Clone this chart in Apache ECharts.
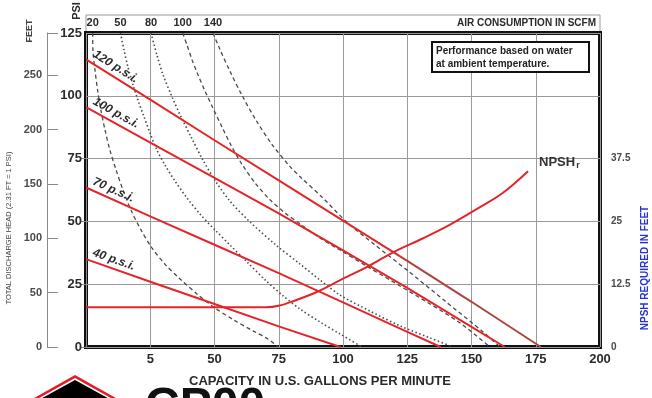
<!DOCTYPE html>
<html>
<head>
<meta charset="utf-8">
<script src="https://cdn.jsdelivr.net/npm/echarts@6/dist/echarts.min.js"></script>
<style>
  html, body { margin: 0; padding: 0; background: #ffffff; }
  #chart { width: 652px; height: 398px; }
</style>
</head>
<body>
<div id="chart"></div>
<script>
// ---- Axis ticks and printed tick labels ----
const capacityTicks = [0, 25, 50, 75, 100, 125, 150, 175, 200];
const capacityTickLabels = ['', '5', '50', '75', '100', '125', '150', '175', '200'];
const feetTicks = [0, 50, 100, 150, 200, 250];
const npshTicks = [0, 12.5, 25, 37.5];
const npshTickLabels = ['0', '12.5', '25', '37.5'];
const PSI_MAX = 125;
const FT_PER_PSI = 2.31;        // discharge head conversion
const NPSH_FT_PER_PSI = 0.5;    // NPSH scale shares the psi grid

// ---- Discharge pressure vs capacity at each air inlet pressure [gpm, psi] ----
const head120 = [[0, 114.5], [25, 98.5], [50, 82.3], [75, 66.3], [100, 50.3], [125, 34.3], [150, 18], [177, 0]];
const head100 = [[0, 95.5], [25, 81.4], [50, 67.3], [75, 53.2], [100, 38.5], [125, 23.5], [150, 8], [163, 0]];
const head70  = [[0, 63.5], [25, 52], [50, 40.7], [75, 29.4], [100, 17.8], [125, 6], [138, 0]];
const head40  = [[0, 35], [25, 26], [50, 17.1], [75, 8.2], [99, 0]];
const headLabels = ['120 p.s.i.', '100 p.s.i.', '70 p.s.i.', '40 p.s.i.'];

// ---- Air consumption curves (SCFM) [gpm, psi] ----
const air20 = [[2.6, 125], [2.7, 118.2], [3.5, 110.2], [4.5, 102.3], [5.8, 94.3], [7.4, 86.4], [9.3, 78.4], [11.7, 70.5],
  [14.4, 62.5], [17.5, 54.5], [21.4, 46.6], [25.7, 39.4], [30.7, 33], [36.6, 27.1], [43.2, 21.1], [50.2, 15.5],
  [57.6, 10.7], [65, 6.4], [70.8, 3.2], [74.7, 0]];
const air50 = [[13.4, 125], [14.8, 118.2], [16.3, 111.5], [18.3, 104.3], [20.2, 98.3], [22.6, 91.6], [24.9, 85.2],
  [27.6, 78.4], [30.7, 72.5], [34.6, 66.1], [39.3, 59.3], [44.4, 52.9], [50.2, 46.6], [56, 40.6], [62.7, 33.8],
  [69.7, 26.7], [76.3, 20.7], [83.3, 15.1], [91, 10], [98.8, 5.2], [107.4, 0]];
const air80 = [[25.3, 125], [27.6, 116.2], [30, 108.3], [33.5, 99.5], [37, 91.6], [40.9, 83.6], [45.5, 74.4],
  [50.6, 65.7], [56, 58.1], [63.8, 49.8], [73.9, 40.6], [83.3, 33], [91, 26.7], [98.8, 20.7], [110.5, 14.3],
  [122.2, 8.4], [133.9, 3.6], [142.8, 0]];
const air100 = [[37.6, 125], [39.3, 120.2], [41.3, 114.2], [43.6, 108.3], [46.3, 101.9], [49.4, 95.1], [52.9, 87.6],
  [56.8, 79.6], [61.1, 72.1], [65.8, 65.3], [71.6, 58.6], [77.4, 53.4], [83.3, 49], [91, 43.4], [98.8, 38.6],
  [110.5, 31.4], [122.2, 24.3], [133.9, 17.1], [145.5, 9.6], [157.2, 0]];
const air140 = [[49.4, 125], [52.1, 118.5], [56, 109.8], [60.7, 100.2], [66.2, 90.2], [72.4, 80.6], [79.4, 71.8],
  [83.3, 67.8], [92.2, 59.3], [101.4, 49.8], [112.5, 40.6], [124.8, 30.7], [139.7, 18.3], [154.5, 6], [161.1, 0]];
const airLabels = ['20', '50', '80', '100', '140'];

// ---- NPSH required [gpm, feet] ----
const npshRequired = [[0, 7.9], [70, 7.9], [75, 8.2], [80, 9], [90, 11], [100, 13.6], [110, 16.1], [120, 19], [131, 21.6], [141.5, 24.3], [152.5, 27.6], [162, 30.6], [172, 35]];

// ---- Layout ----
const W = 652, H = 398;
const G = { left: 86, top: 33, right: 52, bottom: 51 };
const plotW = W - G.left - G.right;
const plotH = H - G.top - G.bottom;
const npshMaxMain = PSI_MAX * NPSH_FT_PER_PSI;
const npshGridTop = G.top + plotH * (1 - npshTicks[npshTicks.length - 1] / npshMaxMain);

const SANS = "'Liberation Sans',Arial,sans-serif";
const RED = '#e3252b';
const INK = '#2a2a2a';

const headSets = [head120, head100, head70, head40];
const airSets = [air20, air50, air80, air100, air140];
const airDash = [[4, 3], [1.5, 2.5], [1.5, 2.5], [4, 3], [4, 3]];
const airWidth = [1.3, 1.6, 1.6, 1.3, 1.3];
const airTopGpm = airSets.map(s => s[0][0]);

function labelAngle(set) {
  const dx = (set[1][0] - set[0][0]) * plotW / 200;
  const dy = (set[0][1] - set[1][1]) * plotH / PSI_MAX;
  return -Math.atan2(dy, dx) * 180 / Math.PI;
}

// the top pressure line is printed darker past the NPSH crossing
const head120Stroke = {
  type: 'linear', x: 0, y: 0, x2: 1, y2: 0,
  colorStops: [
    { offset: 0, color: RED }, { offset: 0.67, color: RED },
    { offset: 0.71, color: '#b0403e' }, { offset: 1, color: '#a8483f' }
  ]
};

const headSeries = headSets.map((set, k) => ({
  type: 'line',
  name: headLabels[k],
  xAxisIndex: 0, yAxisIndex: 0,
  smooth: false,
  symbol: 'none',
  lineStyle: { color: k === 0 ? head120Stroke : RED, width: 2 },
  z: 5,
  data: set.map((p, i) => i === 0 ? {
    value: p,
    symbol: 'circle', symbolSize: 2,
    itemStyle: { color: 'rgba(0,0,0,0)' },
    label: {
      show: true, formatter: headLabels[k],
      position: [6, 0], align: 'left', verticalAlign: 'bottom',
      rotate: labelAngle(set),
      fontFamily: SANS, fontStyle: 'italic', fontWeight: 'bold', fontSize: 12, color: INK
    }
  } : p)
}));

const airSeries = airSets.map((set, k) => ({
  type: 'line',
  name: airLabels[k] + ' SCFM',
  xAxisIndex: 0, yAxisIndex: 0,
  smooth: 0.3,
  symbol: 'none',
  lineStyle: { color: '#4a4a4a', width: airWidth[k], type: airDash[k] },
  z: 3,
  data: set
}));

const npshSeries = {
  type: 'line',
  name: 'NPSHr',
  xAxisIndex: 0, yAxisIndex: 1,
  smooth: 0.35,
  symbol: 'none',
  lineStyle: { color: RED, width: 2 },
  z: 5,
  data: npshRequired.map((p, i) => i === npshRequired.length - 1 ? {
    value: p,
    symbol: 'circle', symbolSize: 2,
    itemStyle: { color: 'rgba(0,0,0,0)' },
    label: {
      show: true, position: [12, -8], align: 'left', verticalAlign: 'middle',
      formatter: '{a|NPSH}{b|r}',
      rich: {
        a: { fontFamily: SANS, fontWeight: 'bold', fontSize: 13, color: '#333', lineHeight: 15 },
        b: { fontFamily: SANS, fontWeight: 'bold', fontSize: 9, color: '#333', lineHeight: 9, padding: [6, 0, 0, 1] }
      }
    }
  } : p)
};

function diamond(cx, cy, hw, hh) {
  return [[cx, cy - hh], [cx + hw, cy], [cx, cy + hh], [cx - hw, cy]];
}

const option = {
  animation: false,
  backgroundColor: '#ffffff',
  grid: [
    { left: G.left, top: G.top, right: G.right, bottom: G.bottom, show: true,
      borderColor: '#111111', borderWidth: 4, backgroundColor: 'transparent' },
    { left: G.left, top: npshGridTop, right: G.right, bottom: G.bottom, show: false }
  ],
  xAxis: [
    {
      gridIndex: 0, type: 'value', min: 0, max: 200, interval: 25, position: 'bottom',
      axisLine: { show: false }, axisTick: { show: false },
      splitLine: { show: true, lineStyle: { color: '#9a9a9a', width: 1 } },
      axisLabel: {
        margin: 6, color: INK, fontFamily: SANS, fontWeight: 'bold', fontSize: 13,
        formatter: v => { const i = capacityTicks.indexOf(v); return i < 0 ? '' : capacityTickLabels[i]; }
      },
      name: 'CAPACITY IN U.S. GALLONS PER MINUTE', nameLocation: 'middle', nameGap: 28,
      nameTextStyle: { color: INK, fontFamily: SANS, fontWeight: 'bold', fontSize: 13, padding: [0, 46, 0, 0] }
    },
    {
      gridIndex: 0, type: 'value', min: 0, max: 200, position: 'top',
      axisLine: { show: false }, axisTick: { show: false }, splitLine: { show: false },
      axisLabel: {
        customValues: airTopGpm, margin: 5, color: INK, fontFamily: SANS, fontWeight: 'bold', fontSize: 11,
        formatter: v => { const i = airTopGpm.indexOf(v); return i < 0 ? '' : airLabels[i]; }
      }
    },
    { gridIndex: 1, type: 'value', min: 0, max: 200, show: false }
  ],
  yAxis: [
    {
      gridIndex: 0, type: 'value', min: 0, max: PSI_MAX, interval: 25, position: 'left',
      axisLine: { show: false }, axisTick: { show: false },
      splitLine: { show: true, lineStyle: { color: '#9a9a9a', width: 1 } },
      axisLabel: { margin: 4, color: INK, fontFamily: SANS, fontWeight: 'bold', fontSize: 13 }
    },
    { gridIndex: 0, type: 'value', min: 0, max: npshMaxMain, show: false },
    {
      gridIndex: 0, type: 'value', min: 0, max: PSI_MAX * FT_PER_PSI, position: 'left', offset: 39,
      axisLine: { show: true, lineStyle: { color: '#8a8a8a', width: 1 } },
      axisTick: { show: true, inside: true, length: 11, customValues: feetTicks.concat([PSI_MAX * FT_PER_PSI]),
                  lineStyle: { color: '#8a8a8a', width: 1 } },
      axisLabel: { customValues: feetTicks, margin: 5, color: '#4a4a4a', fontFamily: SANS, fontWeight: 'bold', fontSize: 11 },
      splitLine: { show: false }
    },
    {
      gridIndex: 1, type: 'value', min: 0, max: npshTicks[npshTicks.length - 1], interval: 12.5,
      position: 'right', offset: 7,
      axisLine: { show: true, lineStyle: { color: '#8a8a8a', width: 1 } },
      axisTick: { show: true, inside: true, length: 5, lineStyle: { color: '#8a8a8a', width: 1 } },
      axisLabel: {
        margin: 4, color: '#4a4a4a', fontFamily: SANS, fontWeight: 'bold', fontSize: 10,
        formatter: v => { const i = npshTicks.indexOf(v); return i < 0 ? '' : npshTickLabels[i]; }
      },
      splitLine: { show: false }
    }
  ],
  graphic: [
    // air consumption strip above the plot
    { type: 'rect', z: -1, shape: { x: G.left, y: 15, width: plotW, height: G.top - 15 },
      style: { fill: 'none', stroke: '#9a9a9a', lineWidth: 1 } },
    { type: 'text', x: G.left + plotW - 4, y: 23,
      style: { text: 'AIR CONSUMPTION IN SCFM', textAlign: 'right', textVerticalAlign: 'middle',
               font: 'bold 10px ' + SANS, fill: INK } },
    // note box
    { type: 'rect', z: 10, shape: { x: 432, y: 42, width: 157, height: 30 },
      style: { fill: '#ffffff', stroke: '#111111', lineWidth: 2 } },
    { type: 'text', z: 11, x: 436, y: 51,
      style: { text: 'Performance based on water', textVerticalAlign: 'middle', font: 'bold 10px ' + SANS, fill: '#222' } },
    { type: 'text', z: 11, x: 436, y: 64,
      style: { text: 'at ambient temperature.', textVerticalAlign: 'middle', font: 'bold 10px ' + SANS, fill: '#222' } },
    // left-hand axis titles
    { type: 'text', x: 77, y: 11, rotation: Math.PI / 2,
      style: { text: 'PSI', textAlign: 'center', textVerticalAlign: 'middle', font: 'bold 11px ' + SANS, fill: INK } },
    { type: 'text', x: 30, y: 31, rotation: Math.PI / 2,
      style: { text: 'FEET', textAlign: 'center', textVerticalAlign: 'middle', font: 'bold 9px ' + SANS, fill: '#444' } },
    { type: 'text', x: 9, y: 228, rotation: Math.PI / 2,
      style: { text: 'TOTAL DISCHARGE HEAD (2.31 FT = 1 PSI)', textAlign: 'center', textVerticalAlign: 'middle',
               font: '7.5px ' + SANS, fill: '#444' } },
    // right-hand axis title
    { type: 'text', x: 645, y: 268, rotation: Math.PI / 2,
      style: { text: 'NPSH REQUIRED IN FEET', textAlign: 'center', textVerticalAlign: 'middle',
               font: 'bold 10px ' + SANS, fill: '#2333d6' } },
    // brand mark at the foot of the sheet
    { type: 'polygon', shape: { points: diamond(75, 402, 48, 27) }, style: { fill: '#e41b23' } },
    { type: 'polygon', shape: { points: diamond(75, 402, 43, 24) }, style: { fill: '#ffffff' } },
    { type: 'polygon', shape: { points: diamond(75, 402, 40, 22) }, style: { fill: '#000000' } },
    { type: 'text', x: 145, y: 384,
      style: { text: 'CP00', textVerticalAlign: 'top', font: 'bold 48px ' + SANS, fill: '#111' } }
  ],
  series: airSeries.concat(headSeries, [npshSeries])
};

const chart = echarts.init(document.getElementById('chart'), null, { renderer: 'canvas', width: W, height: H });
chart.setOption(option);
</script>
</body>
</html>
